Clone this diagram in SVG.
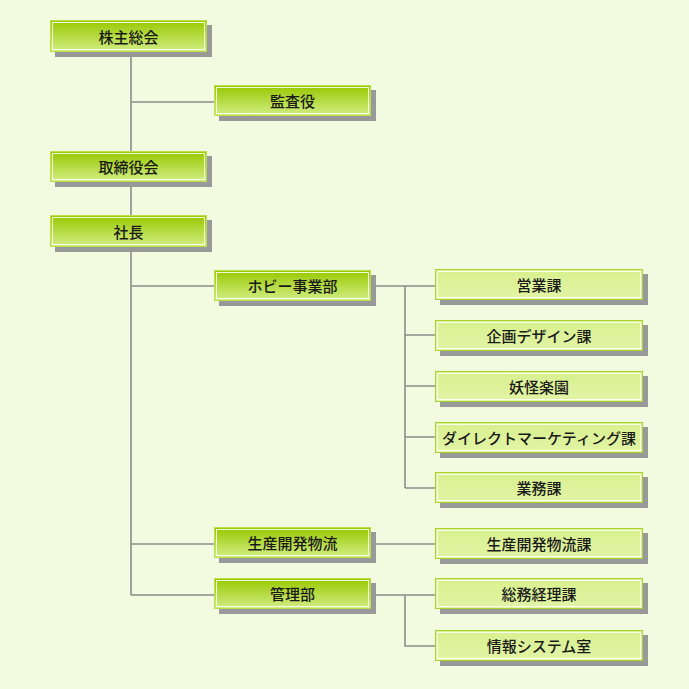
<svg xmlns="http://www.w3.org/2000/svg" width="689" height="689" viewBox="0 0 689 689">
<defs>
<linearGradient id="gDark" x1="0" y1="0" x2="0" y2="1">
<stop offset="0" stop-color="#98c800"/>
<stop offset="1" stop-color="#d2ee84"/>
</linearGradient>
<linearGradient id="gLight" x1="0" y1="0" x2="0" y2="1">
<stop offset="0" stop-color="#d8f08e"/>
<stop offset="1" stop-color="#e2f4a6"/>
</linearGradient>
</defs>
<style>
.bg{fill:#f2fadf}
.sh{fill:#999999}
.od{fill:url(#gDark);stroke:#b8e04a;stroke-width:1}
.ol{fill:url(#gLight);stroke:#a8d430;stroke-width:1}
.in{fill:none;stroke:#ffffff;stroke-width:1;opacity:0.85}
.t{font-family:"Noto Sans CJK JP","Noto Sans CJK SC",sans-serif;font-size:15px;font-weight:500;fill:#1a1a1a;text-anchor:middle;dominant-baseline:central}
.c{stroke:#8c8c8c;stroke-width:1.6;fill:none}
</style>
<rect class="bg" x="0" y="0" width="689" height="689"/>
<g id="connectors">
<path class="c" d="M131 52V151M131 102H214M131 183V215M131 247V595M131 286H214M131 544H214M131 595H214"/>
<path class="c" d="M371 286H435M405 286V488M405 335H435M405 386H435M405 437H435M405 488H435"/>
<path class="c" d="M371 544H435"/>
<path class="c" d="M371 595H435M405 595V646H435"/>
</g>
<g id="n1"><rect class="sh" x="55" y="25" width="157" height="32"/><rect class="od" x="50.5" y="20.5" width="156" height="31"/><rect class="in" x="52.5" y="22.5" width="152" height="27"/><text class="t" x="128.5" y="36">株主総会</text></g>
<g id="n2"><rect class="sh" x="219" y="90" width="157" height="31"/><rect class="od" x="214.5" y="85.5" width="156" height="30"/><rect class="in" x="216.5" y="87.5" width="152" height="26"/><text class="t" x="292.5" y="100.5">監査役</text></g>
<g id="n3"><rect class="sh" x="55" y="156" width="157" height="31"/><rect class="od" x="50.5" y="151.5" width="156" height="30"/><rect class="in" x="52.5" y="153.5" width="152" height="26"/><text class="t" x="128.5" y="166.5">取締役会</text></g>
<g id="n4"><rect class="sh" x="55" y="220" width="157" height="32"/><rect class="od" x="50.5" y="215.5" width="156" height="31"/><rect class="in" x="52.5" y="217.5" width="152" height="27"/><text class="t" x="128.5" y="231">社長</text></g>
<g id="n5"><rect class="sh" x="219" y="275" width="157" height="31"/><rect class="od" x="214.5" y="270.5" width="156" height="30"/><rect class="in" x="216.5" y="272.5" width="152" height="26"/><text class="t" x="292.5" y="285.5">ホビー事業部</text></g>
<g id="n6"><rect class="sh" x="219" y="532" width="157" height="31"/><rect class="od" x="214.5" y="527.5" width="156" height="30"/><rect class="in" x="216.5" y="529.5" width="152" height="26"/><text class="t" x="292.5" y="542.5">生産開発物流</text></g>
<g id="n7"><rect class="sh" x="219" y="583" width="157" height="31"/><rect class="od" x="214.5" y="578.5" width="156" height="30"/><rect class="in" x="216.5" y="580.5" width="152" height="26"/><text class="t" x="292.5" y="593.5">管理部</text></g>
<g id="s1"><rect class="sh" x="440" y="274" width="208" height="31"/><rect class="ol" x="435.5" y="269.5" width="207" height="30"/><rect class="in" x="437.5" y="271.5" width="203" height="26"/><text class="t" x="539" y="284.5">営業課</text></g>
<g id="s2"><rect class="sh" x="440" y="325" width="208" height="31"/><rect class="ol" x="435.5" y="320.5" width="207" height="30"/><rect class="in" x="437.5" y="322.5" width="203" height="26"/><text class="t" x="539" y="335.5">企画デザイン課</text></g>
<g id="s3"><rect class="sh" x="440" y="376" width="208" height="31"/><rect class="ol" x="435.5" y="371.5" width="207" height="30"/><rect class="in" x="437.5" y="373.5" width="203" height="26"/><text class="t" x="539" y="386.5">妖怪楽園</text></g>
<g id="s4"><rect class="sh" x="440" y="427" width="208" height="31"/><rect class="ol" x="435.5" y="422.5" width="207" height="30"/><rect class="in" x="437.5" y="424.5" width="203" height="26"/><text class="t" x="539" y="437.5">ダイレクトマーケティング課</text></g>
<g id="s5"><rect class="sh" x="440" y="477" width="208" height="31"/><rect class="ol" x="435.5" y="472.5" width="207" height="30"/><rect class="in" x="437.5" y="474.5" width="203" height="26"/><text class="t" x="539" y="487.5">業務課</text></g>
<g id="s6"><rect class="sh" x="440" y="533" width="208" height="31"/><rect class="ol" x="435.5" y="528.5" width="207" height="30"/><rect class="in" x="437.5" y="530.5" width="203" height="26"/><text class="t" x="539" y="543.5">生産開発物流課</text></g>
<g id="s7"><rect class="sh" x="440" y="583" width="208" height="31"/><rect class="ol" x="435.5" y="578.5" width="207" height="30"/><rect class="in" x="437.5" y="580.5" width="203" height="26"/><text class="t" x="539" y="593.5">総務経理課</text></g>
<g id="s8"><rect class="sh" x="440" y="635" width="208" height="31"/><rect class="ol" x="435.5" y="630.5" width="207" height="30"/><rect class="in" x="437.5" y="632.5" width="203" height="26"/><text class="t" x="539" y="645.5">情報システム室</text></g>
</svg>
